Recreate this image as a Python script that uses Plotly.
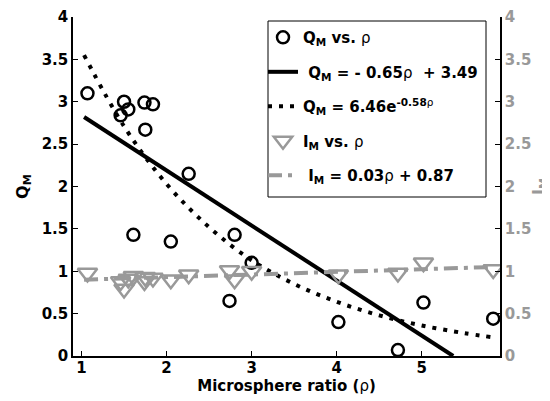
import plotly.graph_objects as go

rho = [1.07, 1.46, 1.50, 1.55, 1.61, 1.74, 1.75, 1.84, 2.05, 2.26, 2.74, 2.80, 3.00, 4.02, 4.72, 5.02, 5.84]
q_m = [3.10, 2.84, 3.00, 2.91, 1.43, 2.99, 2.67, 2.97, 1.35, 2.15, 0.65, 1.43, 1.10, 0.40, 0.07, 0.63, 0.44]
i_m = [0.98, 0.88, 0.79, 0.91, 0.94, 0.88, 0.93, 0.92, 0.90, 0.96, 1.01, 0.90, 1.00, 0.96, 0.98, 1.10, 1.02]

# Fit lines
lin_x = [1.03, 5.37]
lin_y = [2.82, 0.00]
exp_x = [1.03, 1.5, 2.0, 2.5, 3.0, 3.5, 4.0, 4.5, 5.0, 5.5, 5.84]
exp_y = [3.55, 2.71, 2.03, 1.52, 1.13, 0.85, 0.64, 0.48, 0.36, 0.27, 0.22]
ilin_x = [1.03, 5.84]
ilin_y = [0.90, 1.05]

x_ticks = [1, 2, 3, 4, 5]
y_ticks = [0, 0.5, 1, 1.5, 2, 2.5, 3, 3.5, 4]
y_ticklabels = ["0", "0.5", "1", "1.5", "2", "2.5", "3", "3.5", "4"]

GRAY = "#999999"
RHO = '<span style="font-weight:normal">ρ</span>'
FAM = "DejaVu Sans, Verdana, sans-serif"

fig = go.Figure()
fig.add_trace(go.Scatter(
    x=rho, y=q_m, mode="markers",
    marker=dict(symbol="circle-open", size=12, color="black", line=dict(width=2.5, color="black")),
    name=f"Q<sub>M</sub> vs. {RHO}", legendgroup="a"))
fig.add_trace(go.Scatter(
    x=lin_x, y=lin_y, mode="lines",
    line=dict(color="black", width=4),
    name=f" Q<sub>M</sub> = - 0.65{RHO}  + 3.49", legendgroup="b"))
fig.add_trace(go.Scatter(
    x=exp_x, y=exp_y, mode="lines",
    line=dict(color="black", width=4, dash="4px,7px", shape="spline"),
    name=f"Q<sub>M</sub> = 6.46e<sup>-0.58{RHO}</sup>", legendgroup="c"))
fig.add_trace(go.Scatter(
    x=rho, y=i_m, mode="markers", yaxis="y2",
    marker=dict(symbol="triangle-down-open", size=17, color=GRAY, line=dict(width=2.5, color=GRAY)),
    name=f"I<sub>M</sub> vs. {RHO}", legendgroup="d"))
fig.add_trace(go.Scatter(
    x=ilin_x, y=ilin_y, mode="lines", yaxis="y2",
    line=dict(color=GRAY, width=4, dash="14px,6px,4px,6px"),
    name=f" I<sub>M</sub> = 0.03{RHO} + 0.87", legendgroup="e"))

# Legend frame drawn as a shape so its left edge sits close to the symbols
fig.add_shape(type="rect", xref="paper", yref="paper",
              x0=(268 - 73) / 427, x1=(486 - 73) / 427,
              y0=1 - (197 - 17) / 339, y1=1 - (21 - 17) / 339,
              line=dict(color="black", width=1), fillcolor="white", layer="below")

# The page body adds an 8px offset, so the figure is sized to fill the rest of the window.
fig.update_layout(
    width=542, height=393,
    margin=dict(l=65, r=50, t=9, b=45, autoexpand=False),
    paper_bgcolor="white", plot_bgcolor="white",
    font=dict(family=FAM, size=15, color="black", weight="bold"),
    showlegend=True,
    legend=dict(
        x=190 / 427, y=0.988, xanchor="left", yanchor="top",
        bgcolor="rgba(0,0,0,0)", borderwidth=0,
        font=dict(family=FAM, size=15, weight="bold"),
        traceorder="grouped", tracegroupgap=12, itemwidth=30,
    ),
    xaxis=dict(
        range=[0.9, 5.92], tickvals=x_ticks, showgrid=False, zeroline=False,
        showline=True, linecolor="black", linewidth=1.5,
        ticks="inside", ticklen=5, tickcolor="black", automargin=False,
        tickfont=dict(family=FAM, size=15, weight="bold"), ticklabelstandoff=-3,
        title=dict(text=f"Microsphere ratio ({RHO})", font=dict(family=FAM, size=15, weight="bold"), standoff=0),
    ),
    yaxis=dict(
        range=[0, 4], tickvals=y_ticks, ticktext=y_ticklabels, showgrid=False, zeroline=False,
        showline=True, linecolor="black", linewidth=1.5,
        ticks="inside", ticklen=5, tickcolor="black", automargin=False,
        tickfont=dict(family=FAM, size=15, weight="bold"),
        title=dict(text="Q<sub>M</sub>", font=dict(family=FAM, size=16, weight="bold"), standoff=9),
    ),
    yaxis2=dict(
        range=[0, 4], tickvals=y_ticks, ticktext=y_ticklabels, overlaying="y", side="right",
        showgrid=False, zeroline=False,
        showline=True, linecolor="black", linewidth=1.5,
        ticks="inside", ticklen=5, tickcolor="black", automargin=False,
        tickfont=dict(family=FAM, size=15, weight="bold", color=GRAY),
        title=dict(text="I<sub>M</sub>", font=dict(family=FAM, size=16, weight="bold", color=GRAY), standoff=8),
    ),
)

fig.write_html("out.html")
